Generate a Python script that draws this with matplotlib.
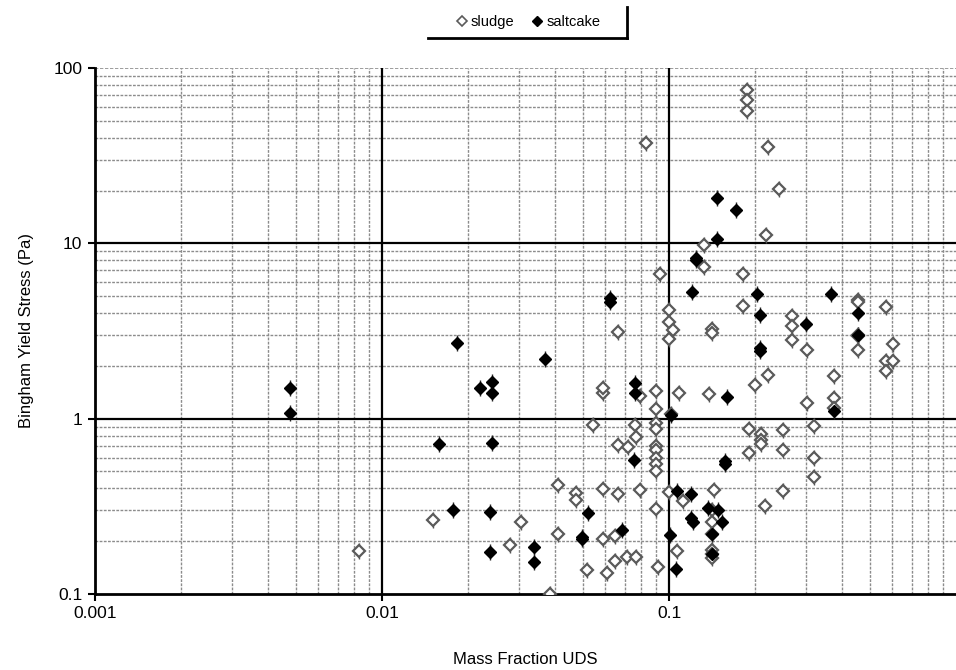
import matplotlib
matplotlib.use("Agg")
import matplotlib.pyplot as plt
from matplotlib.lines import Line2D
import numpy as np

plt.rcParams['font.family'] = ['Liberation Sans', 'DejaVu Sans']

sludge_x = [0.00832, 0.0150, 0.0279, 0.0304, 0.0385, 0.0411, 0.0411, 0.0476, 0.0476, 0.0517,
            0.0545, 0.0587, 0.0587, 0.059, 0.059, 0.0606, 0.0648, 0.065, 0.0663, 0.0666,
            0.0666, 0.0712, 0.0718, 0.0762, 0.0766, 0.0766, 0.0793, 0.0793, 0.0831, 0.090,
            0.090, 0.090, 0.090, 0.090, 0.090, 0.090, 0.090, 0.090, 0.090, 0.0918,
            0.093, 0.100, 0.100, 0.103, 0.100, 0.100, 0.102, 0.107, 0.108, 0.112,
            0.1327, 0.1327, 0.138, 0.141, 0.141, 0.1435, 0.141, 0.141, 0.141, 0.141,
            0.141, 0.141, 0.1815, 0.1815, 0.1866, 0.1866, 0.1866, 0.190, 0.190, 0.1995,
            0.209, 0.209, 0.209, 0.216, 0.217, 0.222, 0.222, 0.242, 0.249, 0.249,
            0.249, 0.268, 0.268, 0.268, 0.302, 0.302, 0.321, 0.321, 0.321, 0.376,
            0.376, 0.376, 0.455, 0.455, 0.455, 0.455, 0.455, 0.569, 0.569, 0.569,
            0.605, 0.605]
sludge_y = [0.175, 0.266, 0.191, 0.257, 0.100, 0.420, 0.220, 0.377, 0.345, 0.137,
            0.924, 1.40, 1.50, 0.397, 0.206, 0.132, 0.215, 0.154, 3.14, 0.374,
            0.71, 0.162, 0.686, 0.924, 0.79, 0.162, 1.35, 0.39, 37.2, 1.44,
            1.14, 0.95, 0.87, 0.695, 0.66, 0.60, 0.55, 0.50, 0.306, 0.143,
            6.67, 4.18, 3.54, 3.22, 2.84, 0.38, 1.06, 0.175, 1.41, 0.338,
            9.72, 7.32, 1.39, 3.25, 3.08, 0.391, 0.30, 0.257, 0.220, 0.179,
            0.168, 0.161, 6.67, 4.40, 75.0, 65.7, 56.9, 0.873, 0.637, 1.56,
            0.822, 0.753, 0.721, 0.316, 11.1, 35.6, 1.78, 20.4, 0.858, 0.660,
            0.389, 3.83, 3.36, 2.82, 2.47, 1.23, 0.904, 0.597, 0.466, 1.74,
            1.31, 1.15, 4.77, 4.60, 3.01, 2.95, 2.45, 4.36, 2.12, 1.88,
            2.67, 2.14]

saltcake_x = [0.00477, 0.00477, 0.0158, 0.0177, 0.0182, 0.0219, 0.0238, 0.0238, 0.0242, 0.0242,
              0.0242, 0.0339, 0.0339, 0.037, 0.0499, 0.0499, 0.0524, 0.0622, 0.0622, 0.0688,
              0.0757, 0.0762, 0.0762, 0.1007, 0.102, 0.106, 0.107, 0.119, 0.1205, 0.1195,
              0.121, 0.124, 0.124, 0.137, 0.141, 0.141, 0.147, 0.147, 0.1485, 0.153,
              0.157, 0.157, 0.159, 0.171, 0.203, 0.2075, 0.2075, 0.2075, 0.299, 0.366,
              0.376, 0.455, 0.455]
saltcake_y = [1.50, 1.08, 0.72, 0.303, 2.70, 1.50, 0.295, 0.174, 1.62, 1.41,
              0.73, 0.186, 0.152, 2.19, 0.212, 0.205, 0.29, 4.9, 4.6, 0.231,
              0.58, 1.60, 1.41, 0.218, 1.05, 0.138, 0.385, 0.374, 5.27, 0.272,
              0.257, 8.30, 8.0, 0.31, 0.220, 0.17, 18.1, 10.6, 0.303, 0.258,
              0.571, 0.554, 1.33, 15.4, 5.13, 3.91, 2.53, 2.42, 3.46, 5.13,
              1.10, 4.0, 3.0]

series_labels = ["sludge", "saltcake"]
x_ticks = [0.001, 0.01, 0.1]
x_tick_labels = ["0.001", "0.01", "0.1"]
y_ticks = [0.1, 1, 10, 100]
y_tick_labels = ["0.1", "1", "10", "100"]

W, H = 956, 670
fig = plt.figure(figsize=(W / 100, H / 100), dpi=100)
ax = fig.add_axes([95 / W, (H - 594) / H, 861 / W, 526 / H])
ax.set_xscale('log')
ax.set_yscale('log')
ax.set_xlim(0.001, 1)
ax.set_ylim(0.1, 100)

# minor grid (gray dotted)
for d in [0.001, 0.01, 0.1]:
    for k in range(2, 10):
        ax.axvline(d * k, color='#8c8c8c', lw=1.0, ls=(0, (2, 1)), zorder=0)
for d in [0.1, 1, 10]:
    for k in range(2, 10):
        ax.axhline(d * k, color='#8c8c8c', lw=1.0, ls=(0, (2, 1)), zorder=0)
ax.axhline(100, color='#8c8c8c', lw=1.2, ls=(0, (2, 1)), zorder=0)
# major grid (black solid)
for v in [0.01, 0.1]:
    ax.axvline(v, color='black', lw=1.6, zorder=1)
for v in [1, 10]:
    ax.axhline(v, color='black', lw=1.6, zorder=1)

# small vertical whiskers behind markers
ax.plot(sludge_x, sludge_y, ls='none', marker='|', ms=12, mew=1.0, color='#555555', zorder=2)
ax.plot(saltcake_x, saltcake_y, ls='none', marker='|', ms=12, mew=1.0, color='#222222', zorder=2)
ax.plot(sludge_x, sludge_y, ls='none', marker='D', ms=6.2, mfc='white', mec='#5a5a5a', mew=1.6,
        zorder=3, label=series_labels[0])
ax.plot(saltcake_x, saltcake_y, ls='none', marker='D', ms=6.2, mfc='black', mec='black', mew=1.0,
        zorder=4, label=series_labels[1])

ax.set_xticks(x_ticks)
ax.set_xticklabels(x_tick_labels)
ax.set_yticks(y_ticks)
ax.set_yticklabels(y_tick_labels)
ax.minorticks_off()
ax.tick_params(axis='both', which='major', labelsize=12.5, length=5, width=1.5, color='black', pad=4)

for s in ['top', 'right']:
    ax.spines[s].set_visible(False)
for s in ['left', 'bottom']:
    ax.spines[s].set_linewidth(2)
    ax.spines[s].set_color('black')

ax.set_xlabel('Mass Fraction UDS', fontsize=12, labelpad=22)
ax.set_ylabel('Bingham Yield Stress (Pa)', fontsize=12, labelpad=14)

# legend
h1 = Line2D([], [], ls='none', marker='D', ms=5, mfc='white', mec='#5a5a5a', mew=1.2)
h2 = Line2D([], [], ls='none', marker='D', ms=5, mfc='black', mec='black')
fig.legend([h1, h2], series_labels, loc='center', bbox_to_anchor=(528 / W, 1 - 22 / H),
           ncol=2, frameon=False, fontsize=10.5, handlelength=0.8, handletextpad=0.2,
           columnspacing=1.2)
fig.add_artist(Line2D([428 / W, 627 / W], [1 - 38 / H, 1 - 38 / H], color='black', lw=2,
                      transform=fig.transFigure))
fig.add_artist(Line2D([627 / W, 627 / W], [1 - 38 / H, 1 - 7 / H], color='black', lw=2,
                      transform=fig.transFigure))

fig.savefig('out.png', dpi=100)
